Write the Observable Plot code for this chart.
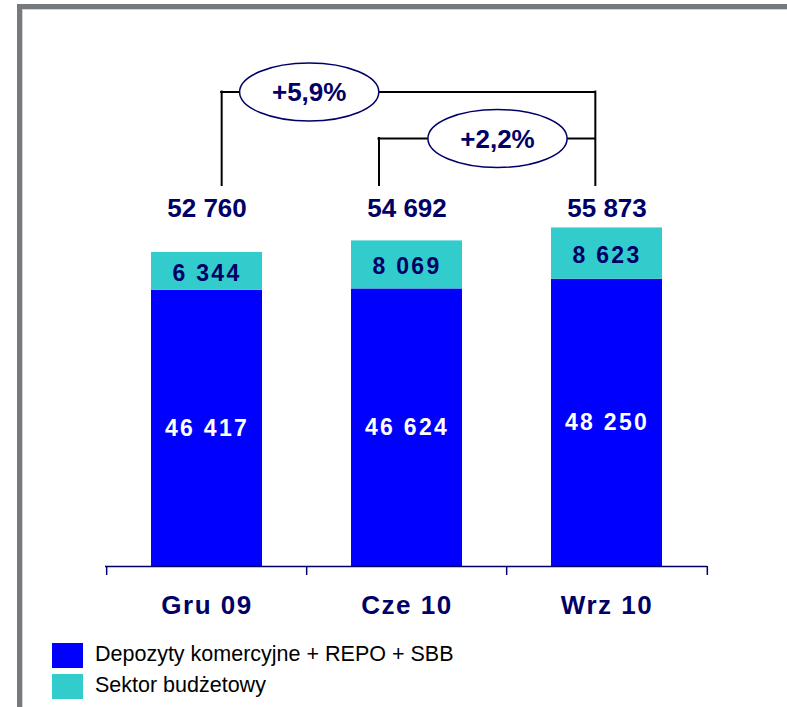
<!DOCTYPE html>
<html>
<head>
<meta charset="utf-8">
<script src="https://cdn.jsdelivr.net/npm/d3@7"></script>
<script src="https://cdn.jsdelivr.net/npm/@observablehq/plot@0.6"></script>
<style>
  body { margin: 0; background: #fff; font-family: "Liberation Sans", Arial, sans-serif; }
  #wrap { position: relative; width: 787px; height: 707px; overflow: hidden; background: #fff; }
  #frame { position: absolute; left: 17px; top: 4px; width: 800px; height: 720px;
           border-left: 5px solid #777a7d; border-top: 5px solid #777a7d; pointer-events: none; box-sizing: border-box; }
  #frame::after { content: ""; position: absolute; left: 0; top: 0; right: 0; bottom: 0;
           border-left: 1px solid #d2d3d4; border-top: 1px solid #d2d3d4; }
  #chart svg { display: block; }
  .legend { padding-top: 7px; }
  .row { display: flex; align-items: center; height: 25px; margin-bottom: 6px; }
  .sw { width: 31px; height: 25px; margin-left: 52px; flex: none; }
  .lab { margin-left: 12px; font-size: 21.5px; line-height: 25px; margin-top: -3px; color: #000; white-space: nowrap; }
</style>
</head>
<body>
<div id="wrap">
  <div id="chart"></div>
  <div class="legend" id="legend"></div>
  <div id="frame"></div>
</div>
<script>
// ---- data ----
const categories = ["Gru 09", "Cze 10", "Wrz 10"];
const seriesNames = ["Depozyty komercyjne + REPO + SBB", "Sektor budżetowy"];
const depozyty = [46417, 46624, 48250];
const budzetowy = [6344, 8069, 8623];
const totals = [52760, 54692, 55873];
const comparisons = [
  { from: "Gru 09", to: "Wrz 10" },
  { from: "Cze 10", to: "Wrz 10" }
];

// ---- styles / layout ----
const colors = ["#0000ff", "#33cccc"];
const navy = "#000066";
const yMax = 85000;
const bracketHigh = 79700;   // level of the upper bracket (data units)
const bracketLow = 71900;    // level of the lower bracket
const bracketFoot = 64000;   // bottom end of bracket legs
const totalLevel = 60100;    // level of the total labels

const fmt = d3.formatLocale({decimal: ",", thousands: " ", grouping: [3], currency: ["", ""]}).format(",d");
const idx = c => categories.indexOf(c);
const growthLabel = d => "+" + ((totals[idx(d.to)] / totals[idx(d.from)] - 1) * 100).toFixed(1).replace(".", ",") + "%";

const rows = [];
categories.forEach((c, i) => {
  rows.push({cat: c, series: seriesNames[0], value: depozyty[i]});
  rows.push({cat: c, series: seriesNames[1], value: budzetowy[i]});
});
const totalRows = categories.map((c, i) => ({cat: c, total: totals[i]}));

const ellipse = {
  draw(ctx, size) {
    const r = Math.sqrt(size / Math.PI), rx = r * 2.4, ry = r, k = 0.5522847498;
    ctx.moveTo(rx, 0);
    ctx.bezierCurveTo(rx, ry * k, rx * k, ry, 0, ry);
    ctx.bezierCurveTo(-rx * k, ry, -rx, ry * k, -rx, 0);
    ctx.bezierCurveTo(-rx, -ry * k, -rx * k, -ry, 0, -ry);
    ctx.bezierCurveTo(rx * k, -ry, rx, -ry * k, rx, 0);
    ctx.closePath();
  }
};

const bracketStyle = {stroke: "#000", strokeWidth: 2, strokeLinecap: "square"};
const big = {fontSize: 26, fontWeight: "bold", fill: navy};

const chart = Plot.plot({
  width: 787,
  height: 636,
  marginLeft: 105,
  marginRight: 80,
  marginTop: 60,
  marginBottom: 70,
  style: {fontFamily: "'Liberation Sans', Arial, sans-serif", background: "#fff"},
  x: {domain: categories, paddingInner: 0.447, paddingOuter: 0.2235, axis: null},
  y: {domain: [0, yMax], axis: null},
  color: {domain: seriesNames, range: colors},
  marks: [
    Plot.barY(rows, {x: "cat", y: "value", fill: "series"}),
    Plot.text(rows, Plot.stackY({x: "cat", y: "value",
      text: d => d.series === seriesNames[0] ? fmt(d.value) : null,
      fill: "white", fontSize: 23, fontWeight: "bold"})),
    Plot.text(rows, Plot.stackY({x: "cat", y: "value",
      text: d => d.series === seriesNames[1] ? fmt(d.value) : null,
      fill: navy, fontSize: 23, fontWeight: "bold", dy: 2})),
    // axis line and band-boundary ticks
    Plot.ruleY([0], {stroke: navy, strokeWidth: 1.5}),
    Plot.ruleX(categories, {x: d => d, y1: () => 0, y2: () => 0, insetBottom: -9, dx: -100.33, stroke: navy, strokeWidth: 1.5}),
    Plot.ruleX([categories[categories.length - 1]], {x: d => d, y1: () => 0, y2: () => 0, insetBottom: -9, dx: 100.33, stroke: navy, strokeWidth: 1.5}),
    // category labels
    Plot.text(categories, {x: d => d, y: () => 0, dy: 39, text: d => d, ...big}),
    // totals
    Plot.text(totalRows, {x: "cat", y: () => totalLevel, text: d => fmt(d.total), ...big}),
    // bracket 1 (Gru 09 -> Wrz 10)
    Plot.ruleX([comparisons[0]], {x: "from", y1: () => bracketHigh, y2: () => bracketFoot, dx: 14.67, ...bracketStyle}),
    Plot.ruleX([comparisons[0]], {x: "to", y1: () => bracketHigh, y2: () => bracketFoot, dx: -11.67, ...bracketStyle}),
    Plot.ruleY([comparisons[0]], {y: () => bracketHigh, x1: "from", x2: "to", insetLeft: 70.15, insetRight: 67.16, ...bracketStyle}),
    // bracket 2 (Cze 10 -> Wrz 10)
    Plot.ruleX([comparisons[1]], {x: "from", y1: () => bracketLow, y2: () => bracketFoot, dx: -28, ...bracketStyle}),
    Plot.ruleY([comparisons[1]], {y: () => bracketLow, x1: "from", x2: "to", insetLeft: 27.48, insetRight: 67.16, ...bracketStyle}),
    // growth ellipses
    Plot.dot([comparisons[0]], {x: "from", y: () => bracketHigh, r: 29, symbol: ellipse, fill: "white", stroke: navy, strokeWidth: 1.5, dx: 102.2}),
    Plot.text([comparisons[0]], {x: "from", y: () => bracketHigh, text: growthLabel, dx: 102.2, dy: 1, ...big}),
    Plot.dot([comparisons[1]], {x: "from", y: () => bracketLow, r: 29, symbol: ellipse, fill: "white", stroke: navy, strokeWidth: 1.5, dx: 90.5}),
    Plot.text([comparisons[1]], {x: "from", y: () => bracketLow, text: growthLabel, dx: 90.5, dy: 1, ...big})
  ]
});

// letter spacing for category and segment labels
const catSet = new Set(categories);
const segSet = new Set([...depozyty, ...budzetowy].map(fmt));
chart.querySelectorAll("text").forEach(t => {
  if (catSet.has(t.textContent)) t.setAttribute("letter-spacing", "1.5");
  else if (segSet.has(t.textContent)) t.setAttribute("letter-spacing", "2.3");
});

document.getElementById("chart").appendChild(chart);

// legend
const legend = document.getElementById("legend");
seriesNames.forEach((name, i) => {
  const row = document.createElement("div");
  row.className = "row";
  const sw = document.createElement("div");
  sw.className = "sw";
  sw.style.background = colors[i];
  const lab = document.createElement("div");
  lab.className = "lab";
  lab.textContent = name;
  row.appendChild(sw);
  row.appendChild(lab);
  legend.appendChild(row);
});
</script>
</body>
</html>
